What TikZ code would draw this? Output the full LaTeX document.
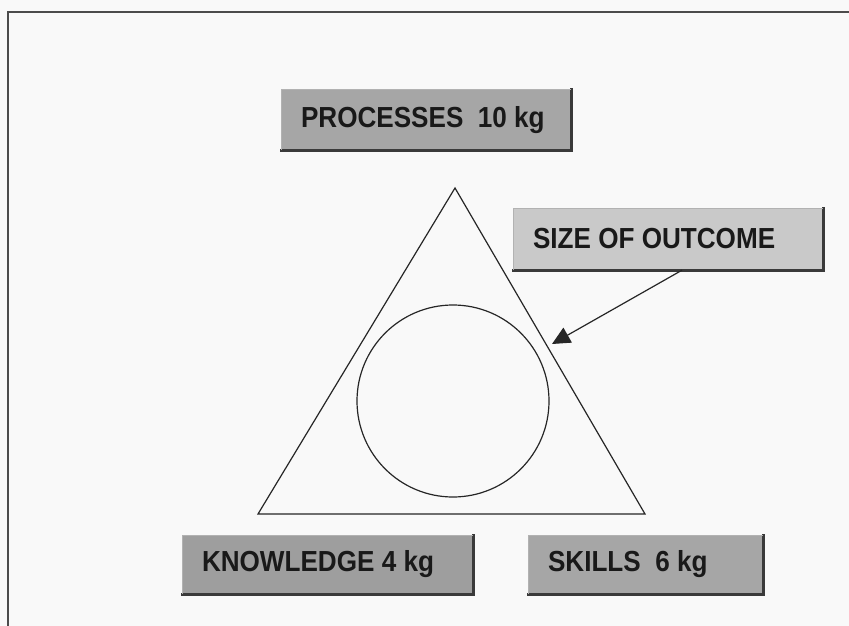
\documentclass[tikz,border=0pt]{standalone}
\usepackage{fontspec}
\newfontfamily\boxfont{Liberation Sans}[FakeStretch=0.9]
\usetikzlibrary{arrows.meta}
\definecolor{bgc}{HTML}{F9F9F9}
\definecolor{midgray}{HTML}{A6A6A6}
\definecolor{lightgray}{HTML}{C9C9C9}
\definecolor{edgegray}{HTML}{3A3A3A}
\tikzset{
  labelbox/.style={rectangle, inner sep=0pt, fill=midgray,
    font=\boxfont\bfseries\fontsize{29}{34}\selectfont, text=black!90},
  shadowedge/.style={draw=edgegray, line width=2.6pt, line cap=rect},
  thinline/.style={draw=black!85, line width=1.2pt},
  frameline/.style={draw=black!70, line width=1.4pt}
}
\begin{document}
\begin{tikzpicture}[x=1pt, y=-1pt]
  \fill[bgc] (0,0) rectangle (849,626);
  \useasboundingbox (0,0) rectangle (849,626);
  % frame (top and left)
  \coordinate (fl) at (8,626);
  \coordinate (fc) at (8,12);
  \coordinate (fr) at (849,12);
  \draw[frameline] (fl) -- (fc) -- (fr);

  % triangle and circle
  \coordinate (apex) at (455,188);
  \coordinate (bl) at (258,514);
  \coordinate (br) at (645,514);
  \draw[thinline, line join=miter] (apex) -- (bl) -- (br) -- cycle;
  \node[circle, thinline, minimum size=192pt, inner sep=0pt] (outcome) at (453,401) {};

  % label boxes
  \node[labelbox, minimum width=290pt, minimum height=60pt] (proc) at (426,120)
    {\makebox[250pt][l]{PROCESSES~ 10 kg}};
  \node[labelbox, fill=lightgray, minimum width=310pt, minimum height=62pt] (size) at (668,239)
    {\makebox[270pt][l]{SIZE OF OUTCOME}};
  \node[labelbox, fill=midgray!95!black, minimum width=291pt, minimum height=59pt] (know) at (327.5,564.5)
    {\makebox[251pt][l]{KNOWLEDGE 4 kg}};
  \node[labelbox, minimum width=235pt, minimum height=59pt] (skill) at (645.5,564.5)
    {\makebox[195pt][l]{SKILLS~ 6 kg}};

  \foreach \b in {proc,size,know,skill}{
    \draw[shadowedge] (\b.south west) -- (\b.south east) -- (\b.north east);
    \draw[draw=gray!60, line width=0.6pt] (\b.south west) -- (\b.north west) -- (\b.north east);
  }

  % arrow
  \coordinate (tip) at (552,344);
  \draw[thinline, -{Triangle[length=18pt, width=17pt]}] ([xshift=14pt]size.south) -- (tip);
\end{tikzpicture}
\end{document}
